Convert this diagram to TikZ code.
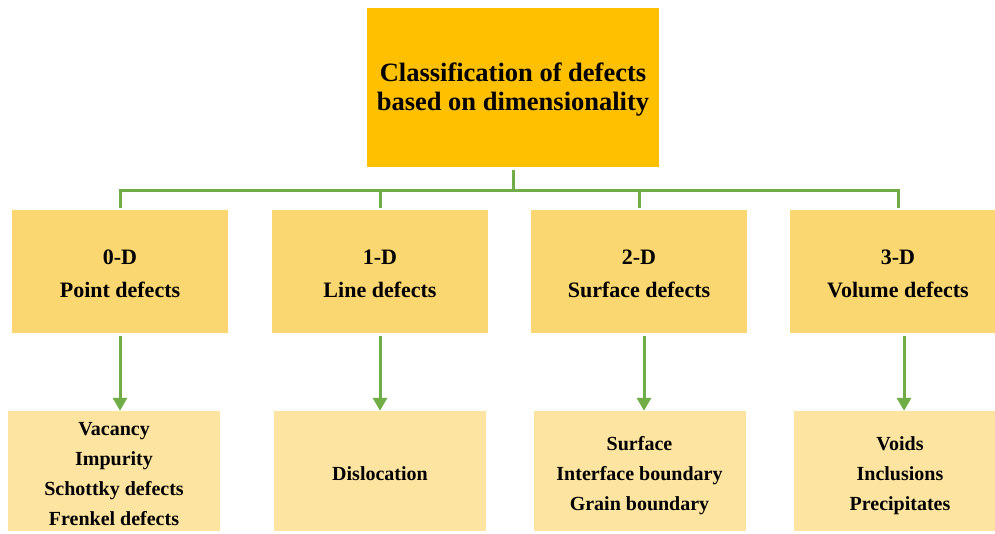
\documentclass[tikz,border=0pt]{standalone}
\usepackage{fontspec}
\setmainfont{Liberation Serif}[BoldFont={Liberation Serif Bold}]
\usetikzlibrary{arrows.meta}
\definecolor{topfill}{HTML}{FFC000}
\definecolor{midfill}{HTML}{FAD770}
\definecolor{lowfill}{HTML}{FDE4A1}
\definecolor{linkgreen}{HTML}{70AD47}
\newcommand{\dropText}[2]{\raisebox{-#1}[\height][\depth]{\parbox{210pt}{\centering #2}}}
\tikzset{
  topbox/.style={fill=topfill, draw=none, inner sep=0pt, minimum width=292pt, minimum height=159pt, align=center, font=\bfseries\fontsize{26.5}{29}\selectfont},
  midbox/.style={fill=midfill, draw=none, inner sep=0pt, minimum width=216pt, minimum height=123pt, align=center, font=\bfseries\fontsize{22}{33}\selectfont},
  lowbox/.style={fill=lowfill, draw=none, inner sep=0pt, minimum width=212pt, minimum height=120pt, align=center, font=\bfseries\fontsize{20}{30}\selectfont},
  conn/.style={draw=linkgreen, line width=3pt},
  arr/.style={draw=linkgreen, line width=3pt, -{Triangle[length=13pt,width=14pt]}}
}
\begin{document}
\begin{tikzpicture}[x=1pt,y=-1pt]
\useasboundingbox (0,0) rectangle (995,533);
\node[topbox] (top) at (513,87.5) {\raisebox{-2pt}[\height][\depth]{\parbox{290pt}{\centering Classification of defects\\based on dimensionality}}};
\node[midbox] (L1) at (120,271.5) {\dropText{2.5pt}{0-D\\Point defects}};
\node[midbox] (L2) at (380,271.5) {\dropText{2.5pt}{1-D\\Line defects}};
\node[midbox] (L3) at (639,271.5) {\dropText{2.5pt}{2-D\\Surface defects}};
\node[midbox] (L4) at (898,271.5) {\dropText{2.5pt}{3-D\\Volume defects}};
\node[lowbox] (B1) at (114,471) {\dropText{3pt}{Vacancy\\Impurity\\Schottky defects\\Frenkel defects}};
\node[lowbox] (B2) at (380,471) {\dropText{3pt}{Dislocation}};
\node[lowbox] (B3) at (639.5,471) {\dropText{5pt}{Surface\\Interface boundary\\Grain boundary}};
\node[lowbox] (B4) at (900,471) {\dropText{5pt}{Voids\\Inclusions\\Precipitates}};
\coordinate (bus) at (0,190);
\draw[conn] ([yshift=-3pt]top.south) -- (top.south |- bus);
\draw[conn] ([xshift=-1.5pt]L1.north |- bus) -- ([xshift=1.5pt]L4.north |- bus);
\foreach \n in {L1,L2,L3,L4}{
  \draw[conn] (\n.north |- bus) -- ([yshift=2pt]\n.north);
}
\draw[arr] ([yshift=-3pt]L1.south) -- (L1.south |- B1.north);
\draw[arr] ([yshift=-3pt]L2.south) -- (L2.south |- B2.north);
\draw[arr] ([xshift=5pt,yshift=-3pt]L3.south) -- ([xshift=5pt]L3.south |- B3.north);
\draw[arr] ([xshift=6pt,yshift=-3pt]L4.south) -- ([xshift=6pt]L4.south |- B4.north);
\end{tikzpicture}
\end{document}
